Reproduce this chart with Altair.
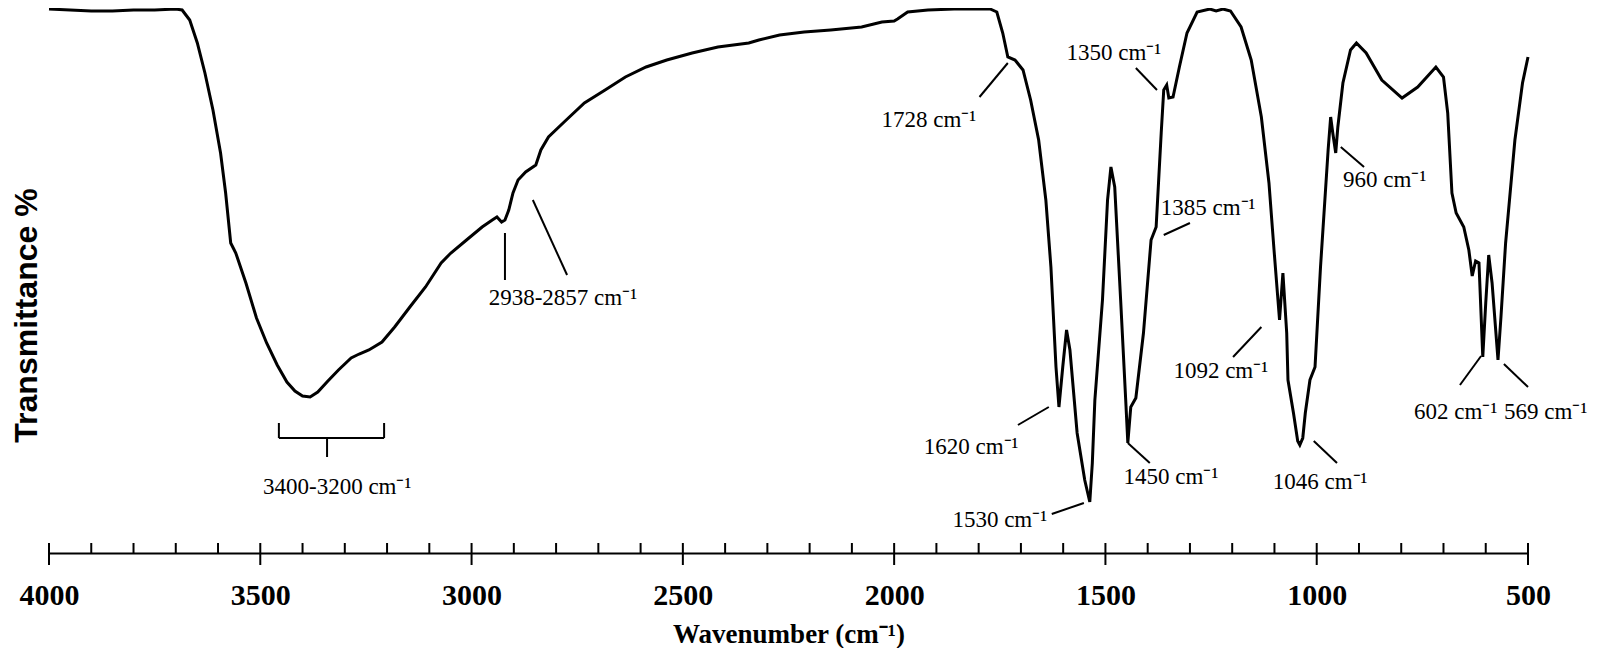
import altair as alt
import pandas as pd

# ---- spectrum ----
wavenumber = [4000, 3950, 3900, 3850, 3800, 3750, 3700, 3685, 3667, 3649, 3631, 3612, 3594, 3582,
              3570, 3564, 3558, 3534, 3509, 3485, 3460, 3437, 3418, 3400, 3382, 3364, 3340, 3315,
              3285, 3266, 3243, 3212, 3182, 3146, 3109, 3072, 3049, 3012, 2975, 2951, 2940, 2929,
              2921, 2912, 2902, 2890, 2872, 2848, 2836, 2818, 2781, 2733, 2684, 2636, 2587, 2538,
              2478, 2417, 2344, 2320, 2271, 2213, 2150, 2077, 2029, 2000, 1992, 1968, 1920, 1858,
              1773, 1757, 1743, 1731, 1714, 1695, 1677, 1658, 1641, 1629, 1617, 1610, 1601, 1592,
              1584, 1567, 1549, 1537, 1531, 1525, 1507, 1495, 1487, 1478, 1464, 1452, 1447, 1440,
              1428, 1410, 1392, 1380, 1368, 1362, 1355, 1350, 1340, 1325, 1307, 1283, 1253, 1238,
              1222, 1204, 1179, 1155, 1131, 1113, 1101, 1088, 1080, 1071, 1068, 1055, 1045, 1040,
              1033, 1027, 1016, 1004, 991, 973, 967, 962, 955, 950, 938, 920, 906, 883, 846, 798,
              761, 718, 700, 690, 680, 670, 652, 640, 632, 624, 616, 607, 600, 593, 585, 571, 564,
              553, 531, 513, 500]
transmittance = [544, 543, 542, 542, 543, 543, 544, 543, 533, 510, 480, 443, 400, 360,
                 310, 305, 300, 270, 235, 210, 188, 171, 162, 157, 156, 161, 172, 183,
                 195, 199, 203, 211, 226, 246, 266, 290, 300, 313, 326, 333, 336, 331,
                 333, 343, 360, 373, 381, 388, 403, 416, 431, 450, 463, 476, 486, 493,
                 500, 506, 510, 513, 518, 521, 523, 526, 531, 532, 534, 541, 543, 544,
                 544, 541, 520, 496, 493, 483, 453, 413, 353, 286, 186, 146, 186, 223,
                 203, 120, 73, 51, 90, 153, 253, 353, 386, 366, 253, 153, 110, 146,
                 155, 220, 313, 326, 420, 463, 468, 455, 456, 486, 520, 541, 544, 542,
                 544, 542, 526, 493, 436, 370, 303, 233, 280, 220, 173, 140, 112, 108,
                 115, 140, 173, 186, 286, 403, 436, 420, 400, 426, 470, 503, 510, 500, 473, 455,
                 466, 486, 476, 440, 360, 340, 326, 303, 277, 292, 290, 196, 250, 298, 270, 193, 236,
                 310, 413, 470, 496]

# ---- x axis ticks ----
major_ticks = [4000, 3500, 3000, 2500, 2000, 1500, 1000, 500]
minor_ticks = [w for w in range(3900, 500, -100) if w % 500 != 0]

# ---- peak annotations ----
label_text = ["3400-3200 cm⁻¹", "2938-2857 cm⁻¹", "1728 cm⁻¹", "1350 cm⁻¹", "1385 cm⁻¹",
              "960 cm⁻¹", "1092 cm⁻¹", "1620 cm⁻¹", "1450 cm⁻¹", "1530 cm⁻¹", "1046 cm⁻¹",
              "602 cm⁻¹", "569 cm⁻¹"]
label_wn = [3318, 2784, 1918, 1480, 1257, 839, 1227, 1818, 1345, 1750, 992, 671, 458]
label_t = [66, 255, 433, 500, 345, 373, 182, 106, 76, 33, 71, 141, 141]

# leader lines and the bracket (start / end points)
lead_wn1 = [2921, 2855, 1798, 1428, 1362, 943, 1198, 1707, 1447, 1627, 1007, 661, 557,
            3456, 3456, 3207, 3342]
lead_t1 = [320, 353, 456, 485, 318, 406, 196, 128, 110, 39, 112, 168, 189,
           115, 115, 115, 115]
lead_wn2 = [2921, 2774, 1731, 1378, 1300, 888, 1131, 1634, 1395, 1551, 952, 611, 500,
            3207, 3456, 3207, 3342]
lead_t2 = [273, 278, 490, 463, 330, 386, 226, 146, 90, 50, 90, 197, 166,
           115, 130, 130, 96]

SERIF = "Liberation Serif"

curve = pd.DataFrame({"wavenumber": wavenumber, "transmittance": transmittance})
ticks = pd.DataFrame({
    "wavenumber": major_ticks + minor_ticks,
    "transmittance": [-12] * len(major_ticks) + [0] * len(minor_ticks),
    "t2": [10] * (len(major_ticks) + len(minor_ticks)),
})
labels = pd.DataFrame({"wavenumber": label_wn, "transmittance": label_t, "label": label_text})
leaders = pd.DataFrame({"wavenumber": lead_wn1, "transmittance": lead_t1,
                        "wn2": lead_wn2, "t2": lead_t2})

xs = alt.Scale(domain=[500, 4000], reverse=True, nice=False, zero=False)
ys = alt.Scale(domain=[0, 545], nice=False, zero=False)

xaxis = alt.Axis(
    values=major_ticks, format="d", grid=False, ticks=False, tickSize=0,
    domain=True, domainColor="black", domainWidth=2,
    labelFont=SERIF, labelFontSize=30, labelFontWeight="bold", labelColor="black",
    labelPadding=27, labelFlush=False,
    title="Wavenumber (cm⁻¹)", titleFont=SERIF, titleFontSize=27, titleFontWeight="bold",
    titleColor="black", titleY=81, titleBaseline="middle",
)
yaxis = alt.Axis(
    grid=False, ticks=False, labels=False, domain=False,
    title="Transmittance %", titleFont="Liberation Sans", titleFontSize=32,
    titleFontWeight="bold", titleColor="black", titleAngle=270, titleX=-23, titleY=307,
    titleBaseline="middle", titleAlign="center",
)

X = alt.X("wavenumber:Q", scale=xs, axis=xaxis, title="Wavenumber (cm⁻¹)")
Y = alt.Y("transmittance:Q", scale=ys, axis=yaxis, title="Transmittance %")

line = alt.Chart(curve).mark_line(color="black", strokeWidth=3).encode(x=X, y=Y)

tick_marks = alt.Chart(ticks).mark_rule(color="black", strokeWidth=2).encode(
    x=X, y=Y, y2="t2:Q",
)

leader_marks = alt.Chart(leaders).mark_rule(color="black", strokeWidth=2).encode(
    x=X, x2="wn2:Q", y=Y, y2="t2:Q",
)

text_marks = alt.Chart(labels).mark_text(
    font=SERIF, fontSize=23, color="black", align="center", baseline="middle"
).encode(x=X, y=Y, text="label:N")

chart = alt.layer(line, tick_marks, leader_marks, text_marks).properties(
    width=1479, height=545,
    background="white",
    autosize=alt.AutoSizeParams(type="none"),
    padding={"left": 41, "top": 0, "right": 64, "bottom": 95},
).configure_view(strokeWidth=0, stroke="transparent")

chart.save("out.html", embed_options={"renderer": "svg", "actions": False})
